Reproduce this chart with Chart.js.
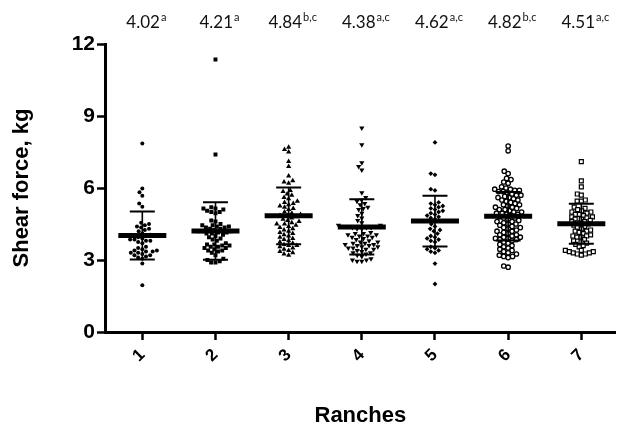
<!DOCTYPE html>
<html>
<head>
<meta charset="utf-8">
<script src="https://cdn.jsdelivr.net/npm/chart.js@4/dist/chart.umd.min.js"></script>
<style>
  html, body { margin: 0; padding: 0; background: #fff; }
  canvas { display: block; }
</style>
</head>
<body>
<canvas id="shearChart" width="621" height="429"></canvas>
<script>
// categories
const ranches = ['1', '2', '3', '4', '5', '6', '7'];

// means, SD and letters printed above each column
const meanValues = [4.02, 4.21, 4.84, 4.38, 4.62, 4.82, 4.51];
const sdValues = [1.0, 1.2, 1.18, 1.15, 1.06, 1.01, 0.83];
const meanLabels = ['4.02', '4.21', '4.84', '4.38', '4.62', '4.82', '4.51'];
const letterLabels = ['a', 'a', 'b,c', 'a,c', 'a,c', 'b,c', 'a,c'];

// shear force of each animal, kg
const ranch1 = [7.85, 5.98, 5.82, 5.68, 5.35, 5.22, 4.55, 4.5, 4.45, 4.4, 4.35, 4.3, 4.25, 4.2,
  4.1, 4.05, 4.0, 3.95, 3.9, 3.85, 3.85, 3.8, 3.8, 3.75, 3.7, 3.55, 3.5, 3.45, 3.4, 3.4, 3.35,
  3.35, 3.3, 3.3, 3.25, 3.2, 3.2, 3.15, 3.1, 3.05, 2.85, 1.95];
const ranch2 = [11.35, 7.4, 5.2, 5.15, 5.15, 5.1, 5.05, 5.0, 5.0, 4.95, 4.65, 4.6, 4.5, 4.45, 4.45,
  4.4, 4.4, 4.35, 4.35, 4.3, 4.3, 4.25, 4.2, 4.2, 4.2, 4.15, 4.15, 4.1, 4.1, 4.05, 4.0, 3.95, 3.9,
  3.85, 3.8, 3.7, 3.65, 3.65, 3.6, 3.6, 3.55, 3.55, 3.5, 3.5, 3.45, 3.4, 3.4, 3.35, 3.3, 3.2, 3.05,
  3.0, 2.95, 2.9, 2.9];
const ranch3 = [7.7, 7.6, 7.5, 7.1, 6.9, 6.5, 6.3, 6.25, 6.2, 5.9, 5.85, 5.75, 5.7, 5.6, 5.55, 5.45,
  5.4, 5.35, 5.3, 5.25, 5.2, 5.15, 5.1, 5.0, 4.95, 4.9, 4.85, 4.85, 4.8, 4.75, 4.7, 4.65, 4.6, 4.55,
  4.5, 4.5, 4.45, 4.4, 4.35, 4.3, 4.25, 4.2, 4.15, 4.1, 4.05, 4.0, 3.95, 3.9, 3.85, 3.8, 3.75, 3.7,
  3.65, 3.6, 3.6, 3.55, 3.5, 3.45, 3.4, 3.35, 3.3, 3.25, 3.2];
const ranch4 = [8.5, 7.8, 7.05, 6.9, 6.75, 5.8, 5.6, 5.5, 5.45, 5.35, 5.3, 5.2, 5.15, 5.1, 4.95, 4.85,
  4.75, 4.65, 4.55, 4.45, 4.45, 4.4, 4.4, 4.4, 4.35, 4.35, 4.35, 4.3, 4.3, 4.15, 4.1, 4.1, 4.05, 4.05,
  4.0, 4.0, 3.95, 3.95, 3.9, 3.85, 3.8, 3.75, 3.75, 3.7, 3.7, 3.65, 3.65, 3.6, 3.6, 3.55, 3.55, 3.5,
  3.5, 3.45, 3.45, 3.4, 3.35, 3.3, 3.3, 3.25, 3.2, 3.15, 3.05, 3.0, 3.0, 2.95, 2.95];
const ranch5 = [7.9, 6.6, 6.55, 5.95, 5.9, 5.4, 5.35, 5.3, 5.25, 5.2, 5.15, 5.1, 5.05, 5.0, 4.95, 4.9,
  4.85, 4.8, 4.75, 4.7, 4.5, 4.4, 4.3, 4.25, 4.2, 4.1, 4.0, 3.95, 3.9, 3.85, 3.8, 3.75, 3.55, 3.5,
  3.45, 3.4, 3.35, 3.3, 2.85, 2.0];
const ranch6 = [7.75, 7.55, 6.7, 6.6, 6.4, 6.35, 6.25, 6.2, 6.05, 6.0, 5.95, 5.95, 5.9, 5.9, 5.85, 5.85,
  5.8, 5.75, 5.7, 5.7, 5.65, 5.6, 5.6, 5.55, 5.5, 5.5, 5.45, 5.4, 5.35, 5.3, 5.3, 5.25, 5.2, 5.2, 5.15,
  5.1, 5.1, 5.05, 5.0, 5.0, 4.95, 4.95, 4.9, 4.9, 4.85, 4.8, 4.75, 4.75, 4.7, 4.65, 4.6, 4.6, 4.55,
  4.5, 4.5, 4.45, 4.4, 4.35, 4.35, 4.3, 4.25, 4.2, 4.2, 4.15, 4.1, 4.05, 4.05, 4.0, 3.95, 3.95, 3.9,
  3.9, 3.85, 3.85, 3.8, 3.75, 3.7, 3.65, 3.6, 3.55, 3.5, 3.45, 3.4, 3.35, 3.3, 3.25, 3.2, 3.15, 3.15,
  3.1, 2.75, 2.7];
const ranch7 = [7.1, 6.3, 6.05, 5.75, 5.7, 5.5, 5.45, 5.45, 5.2, 5.15, 5.1, 5.05, 5.0, 5.0, 4.95, 4.9,
  4.9, 4.85, 4.8, 4.8, 4.75, 4.7, 4.7, 4.65, 4.6, 4.6, 4.55, 4.5, 4.5, 4.45, 4.4, 4.35, 4.3, 4.25, 4.2,
  4.2, 4.15, 4.1, 4.05, 4.0, 4.0, 3.95, 3.95, 3.85, 3.8, 3.75, 3.7, 3.65, 3.6, 3.55, 3.4, 3.4, 3.35,
  3.35, 3.3, 3.3, 3.25, 3.25, 3.2];

const groups = [ranch1, ranch2, ranch3, ranch4, ranch5, ranch6, ranch7];

// marker look for each ranch
const markers = [
  { style: 'circle', r: 2, fill: '#000', border: 0, gap: 4.4 },
  { style: 'rect', r: 2.8, fill: '#000', border: 0, gap: 4.4 },
  { style: 'triangle', r: 3, fill: '#000', border: 0, gap: 4.8, rot: 0 },
  { style: 'triangle', r: 3, fill: '#000', border: 0, gap: 4.8, rot: 180 },
  { style: 'rectRot', r: 2.4, fill: '#000', border: 0, gap: 4.4 },
  { style: 'circle', r: 2.2, fill: '#fff', border: 1.3, gap: 4.6 },
  { style: 'rect', r: 2.8, fill: '#fff', border: 1.2, gap: 4.2 }
];

// pixels per unit, used only to spread the dots sideways
const PX_X = 73.8;
const PX_Y = 24;

// simple beeswarm: every dot goes to the nearest free spot beside the centre
function swarmOffsets(values, gap) {
  const order = values.map((v, i) => i).sort((a, b) => values[a] - values[b]);
  const placed = [];
  const offsets = new Array(values.length).fill(0);
  order.forEach(idx => {
    const y = values[idx] * PX_Y;
    const blocked = [];
    placed.forEach(p => {
      const dy = Math.abs(y - p.y);
      if (dy < gap) {
        const w = Math.sqrt(gap * gap - dy * dy);
        blocked.push([p.x - w, p.x + w]);
      }
    });
    const cands = [0];
    blocked.forEach(([a, b]) => { cands.push(a, b); });
    cands.sort((a, b) => Math.abs(a) - Math.abs(b) || a - b);
    let x = 0;
    for (const c of cands) {
      if (!blocked.some(([a, b]) => c > a + 1e-6 && c < b - 1e-6)) { x = c; break; }
    }
    placed.push({ x, y });
    offsets[idx] = x;
  });
  return offsets;
}

const datasets = groups.map((vals, g) => {
  const m = markers[g];
  const offs = swarmOffsets(vals, m.gap);
  return {
    label: 'Ranch ' + ranches[g],
    data: vals.map((v, i) => ({ x: g + 1 + offs[i] / PX_X, y: v })),
    pointStyle: m.style,
    pointRadius: m.r,
    pointRotation: m.rot || 0,
    backgroundColor: m.fill,
    borderColor: '#000',
    borderWidth: m.border,
    showLine: false
  };
});

// mean bar + SD whiskers
const meanSdPlugin = {
  id: 'meanSd',
  afterDatasetsDraw(chart) {
    const { ctx, scales: { x, y } } = chart;
    ctx.save();
    ctx.strokeStyle = '#000';
    meanValues.forEach((m, i) => {
      const cx = x.getPixelForValue(i + 1);
      const yTop = y.getPixelForValue(m + sdValues[i]);
      const yBot = y.getPixelForValue(m - sdValues[i]);
      const yMean = y.getPixelForValue(m);
      ctx.lineWidth = 1.6;
      ctx.beginPath();
      ctx.moveTo(cx, yTop);
      ctx.lineTo(cx, yBot);
      ctx.stroke();
      ctx.lineWidth = 2;
      ctx.beginPath();
      ctx.moveTo(cx - 12.5, yTop);
      ctx.lineTo(cx + 12.5, yTop);
      ctx.moveTo(cx - 12.5, yBot);
      ctx.lineTo(cx + 12.5, yBot);
      ctx.stroke();
      ctx.lineWidth = 5;
      ctx.beginPath();
      ctx.moveTo(cx - 24, yMean);
      ctx.lineTo(cx + 24, yMean);
      ctx.stroke();
    });
    ctx.restore();
  }
};

// mean values with superscript letters above the plot
const topLabelPlugin = {
  id: 'topLabels',
  afterDraw(chart) {
    const { ctx, scales: { x } } = chart;
    ctx.save();
    ctx.fillStyle = '#111';
    ctx.textBaseline = 'alphabetic';
    ctx.textAlign = 'left';
    const mainFont = '17px Lato, "Open Sans", sans-serif';
    const supFont = '11px Lato, "Open Sans", sans-serif';
    meanLabels.forEach((txt, i) => {
      ctx.font = mainFont;
      const w1 = ctx.measureText(txt).width;
      ctx.font = supFont;
      const w2 = ctx.measureText(letterLabels[i]).width;
      const cx = x.getPixelForValue(i + 1) + 4;
      const left = cx - (w1 + 1 + w2) / 2;
      ctx.font = mainFont;
      ctx.fillText(txt, left, 28);
      ctx.font = supFont;
      ctx.fillText(letterLabels[i], left + w1 + 1, 21);
    });
    ctx.restore();
  }
};

const ctx = document.getElementById('shearChart').getContext('2d');
new Chart(ctx, {
  type: 'scatter',
  data: { datasets },
  plugins: [meanSdPlugin, topLabelPlugin],
  options: {
    responsive: false,
    animation: false,
    layout: { padding: { top: 44, right: 1, left: 0, bottom: 0 } },
    plugins: {
      legend: { display: false },
      tooltip: { enabled: false }
    },
    scales: {
      x: {
        type: 'linear',
        min: 0.49,
        max: 7.47,
        afterFit: scale => { scale.height = 97; },
        afterBuildTicks: scale => {
          scale.ticks = ranches.map((_, i) => ({ value: i + 1 }));
        },
        ticks: {
          autoSkip: false,
          minRotation: 45,
          maxRotation: 45,
          padding: 5,
          color: '#000',
          font: { family: '"Liberation Sans", Arial, sans-serif', size: 17, weight: 'bold' },
          callback: v => ranches[v - 1]
        },
        grid: { drawOnChartArea: false, drawTicks: true, tickLength: 8, tickWidth: 2.5, tickColor: '#000' },
        border: { display: true, color: '#000', width: 3 },
        title: {
          display: true,
          text: 'Ranches',
          color: '#000',
          padding: { top: 0, bottom: 0 },
          font: { family: '"Liberation Sans", Arial, sans-serif', size: 22, weight: 'bold', lineHeight: 1.2 }
        }
      },
      y: {
        min: 0,
        max: 12,
        afterFit: scale => { scale.width = 105; },
        ticks: {
          stepSize: 3,
          padding: 2,
          color: '#000',
          font: { family: '"Liberation Sans", Arial, sans-serif', size: 21, weight: 'bold' }
        },
        grid: { drawOnChartArea: false, drawTicks: true, tickLength: 8, tickWidth: 2.5, tickColor: '#000' },
        border: { display: true, color: '#000', width: 3 },
        title: {
          display: true,
          text: 'Shear force, kg',
          color: '#000',
          padding: { top: 9, bottom: 0 },
          font: { family: '"Liberation Sans", Arial, sans-serif', size: 22, weight: 'bold', lineHeight: 1.2 }
        }
      }
    }
  }
});
</script>
</body>
</html>
